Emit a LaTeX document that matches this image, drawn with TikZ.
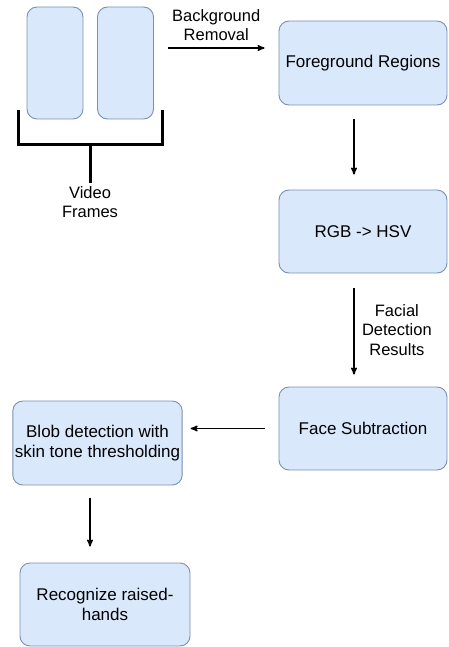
\documentclass[tikz,border=0pt]{standalone}
\usepackage{fontspec}
\setmainfont{Liberation Sans}
\usetikzlibrary{arrows, positioning}
\definecolor{boxfill}{HTML}{DAE8FC}
\definecolor{boxline}{HTML}{7A90B3}

\begin{document}
\begin{tikzpicture}[x=1pt, y=-1pt, >=stealth',
        block/.style={draw=boxline, fill=boxfill, rounded corners=10pt, line width=0.9pt,
            align=center, font=\fontsize{17}{19.5}\selectfont},
        frame/.style={block, minimum width=56pt, minimum height=112pt},
        stage/.style={block, minimum width=168pt, minimum height=84pt, inner sep=2pt},
        label/.style={align=center, font=\fontsize{16.5}{19.5}\selectfont},
        flow/.style={->, line width=1.4pt},
        bracket/.style={line width=3pt}]
        \useasboundingbox (0,0) rectangle (448,647);
        \node[frame] (f_1) at (55,63) {};
        \node[frame] (f_2) at (125.5,63) {};
        \node[label] (vf) at (90,202) {Video\\Frames};
        \node[stage] (fg) at (363,63) {Foreground Regions};
        \node[stage, minimum height=83pt] (rgb) at (363,231.5) {RGB -> HSV};
        \node[stage, minimum height=83pt] (face) at (363,428.5) {Face Subtraction};
        \node[stage, minimum width=169pt] (blob) at (97.5,443) {Blob detection with\\skin tone thresholding};
        \node[stage, minimum width=170pt, minimum height=83pt] (rec) at (105,604.5) {Recognize raised-\\hands};
        % bracket under the frames
        \draw[bracket] (18,110) |- (162,145) -- (162,110);
        \draw[bracket] (90,145) -- (vf.north);
        \draw[flow, shorten <=14pt, shorten >=14pt] ([yshift=15pt]f_2.east) -- ([yshift=15pt]fg.west)
                node[label, midway, above=3pt] {Background\\Removal};
        \draw[flow, shorten <=14pt, shorten >=15pt] ([xshift=-9pt]fg.south) -- ([xshift=-9pt]rgb.north);
        \draw[flow, shorten <=15pt, shorten >=12pt] ([xshift=-9pt]rgb.south) -- ([xshift=-9pt]face.north)
                node[label, midway, right=4pt] {Facial\\Detection\\Results};
        \draw[flow, shorten <=14pt, shorten >=8pt] (face.west) -- (face.west -| blob.east);
        \draw[flow, shorten <=13pt, shorten >=16pt] ([xshift=-7.5pt]blob.south) -- ([xshift=-7.5pt]blob.south |- rec.north);
\end{tikzpicture}
\end{document}
